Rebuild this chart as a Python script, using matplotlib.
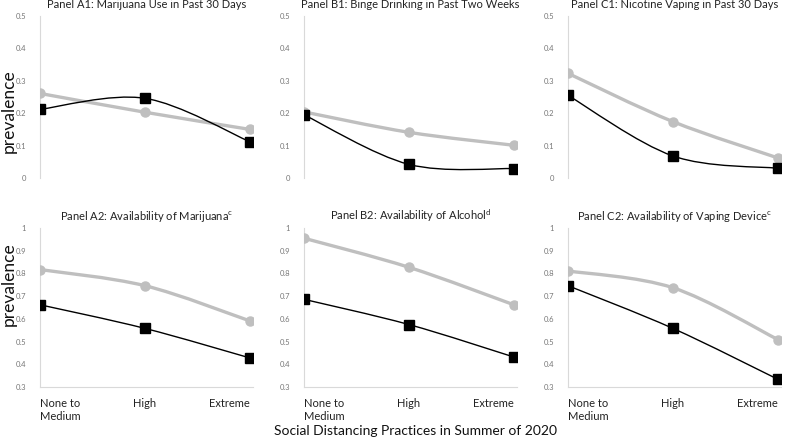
import matplotlib.pyplot as plt
from matplotlib.path import Path
from matplotlib.patches import PathPatch
import matplotlib.transforms as mtransforms
import numpy as np

plt.rcParams['font.family'] = ['Lato', 'DejaVu Sans']

categories = ['None to\nMedium', 'High', 'Extreme']

titles = [
    'Panel A1: Marijuana Use in Past 30 Days',
    'Panel B1: Binge Drinking in Past Two Weeks',
    'Panel C1: Nicotine Vaping in Past 30 Days',
    'Panel A2: Availability of Marijuana$^{\\mathregular{c}}$',
    'Panel B2: Availability of Alcohol$^{\\mathregular{d}}$',
    'Panel C2: Availability of Vaping Device$^{\\mathregular{c}}$',
]

gray_a1 = [0.261, 0.203, 0.150]
black_a1 = [0.212, 0.246, 0.112]
gray_b1 = [0.204, 0.141, 0.101]
black_b1 = [0.195, 0.042, 0.029]
gray_c1 = [0.323, 0.174, 0.062]
black_c1 = [0.255, 0.068, 0.030]
gray_a2 = [0.817, 0.746, 0.591]
black_a2 = [0.662, 0.558, 0.428]
gray_b2 = [0.955, 0.827, 0.662]
black_b2 = [0.686, 0.575, 0.432]
gray_c2 = [0.811, 0.737, 0.509]
black_c2 = [0.746, 0.558, 0.334]

gray_series = [gray_a1, gray_b1, gray_c1, gray_a2, gray_b2, gray_c2]
black_series = [black_a1, black_b1, black_c1, black_a2, black_b2, black_c2]

top_ticks = [0, 0.1, 0.2, 0.3, 0.4, 0.5]
top_labels = ['0', '0.1', '0.2', '0.3', '0.4', '0.5']
bottom_ticks = [0.3, 0.4, 0.5, 0.6, 0.7, 0.8, 0.9, 1]
bottom_labels = ['0.3', '0.4', '0.5', '0.6', '0.7', '0.8', '0.9', '1']


def smooth_path(x, y):
    # excel-like smoothed line, bezier segments through the points
    pts = np.column_stack([x, y]).astype(float)
    ext = np.vstack([pts[0], pts, pts[-1]])
    verts = [pts[0]]
    codes = [Path.MOVETO]
    for i in range(len(pts) - 1):
        p0, p1, p2, p3 = ext[i], ext[i + 1], ext[i + 2], ext[i + 3]
        c1 = p1 + (p2 - p0) / 6
        c2 = p2 - (p3 - p1) / 6
        verts += [c1, c2, p2]
        codes += [Path.CURVE4] * 3
    return Path(verts, codes)


def shift(label, dx):
    label.set_transform(label.get_transform() +
                        mtransforms.ScaledTranslation(dx / 100, 0, fig.dpi_scale_trans))


fig = plt.figure(figsize=(7.91, 4.44), dpi=100)
W, H = 791, 444
lefts = [40, 304, 568]
width = 213
rows = [(16, 178), (228, 387)]

x = np.arange(len(categories))
for k in range(6):
    r, c = divmod(k, 3)
    top, bot = rows[r]
    ax = fig.add_axes([lefts[c] / W, 1 - bot / H, width / W, (bot - top) / H])

    for vals, col, lw, mk, ms in [(gray_series[k], '#bfbfbf', 2.4, 'o', 6.5),
                                  (black_series[k], 'black', 1.0, 's', 6.5)]:
        ax.add_patch(PathPatch(smooth_path(x, vals), facecolor='none',
                               edgecolor=col, lw=lw, zorder=2))
        ax.plot(x, vals, linestyle='none', marker=mk, color=col, ms=ms, zorder=3)

    ax.set_xlim(0, 2.03)
    if r == 0:
        ax.set_ylim(0, 0.5)
        ax.set_yticks(top_ticks)
        ax.set_yticklabels(top_labels)
        ax.set_xticks([])
        ax.spines['bottom'].set_visible(False)
    else:
        ax.set_ylim(0.3, 1)
        ax.set_yticks(bottom_ticks)
        ax.set_yticklabels(bottom_labels)
        ax.set_xticks(x)
        ax.set_xticklabels(categories, fontsize=8, color='#222222')
        first = ax.get_xticklabels()[0]
        first.set_horizontalalignment('left')
        first.set_multialignment('left')
        shift(first, -5)
        last = ax.get_xticklabels()[2]
        last.set_horizontalalignment('right')
        shift(last, 10)
        ax.spines['bottom'].set_color('#d9d9d9')
        ax.tick_params(axis='x', length=0, pad=8)
    ax.spines['top'].set_visible(False)
    ax.spines['right'].set_visible(False)
    ax.spines['left'].set_color('#d9d9d9')
    ax.tick_params(axis='y', length=0, labelsize=5.5, labelcolor='#777777', pad=10)
    ax.set_title(titles[k], fontsize=8, color='#222222', pad=6)

for yc in [111, 284]:
    fig.text(9 / W, 1 - yc / H, 'prevalence', rotation=90, ha='center', va='center',
             fontsize=12.5, color='#111111')

fig.text(415 / W, 1 - 431 / H, 'Social Distancing Practices in Summer of 2020',
         ha='center', va='center', fontsize=10, color='#111111')

fig.savefig('out.png', dpi=100)
